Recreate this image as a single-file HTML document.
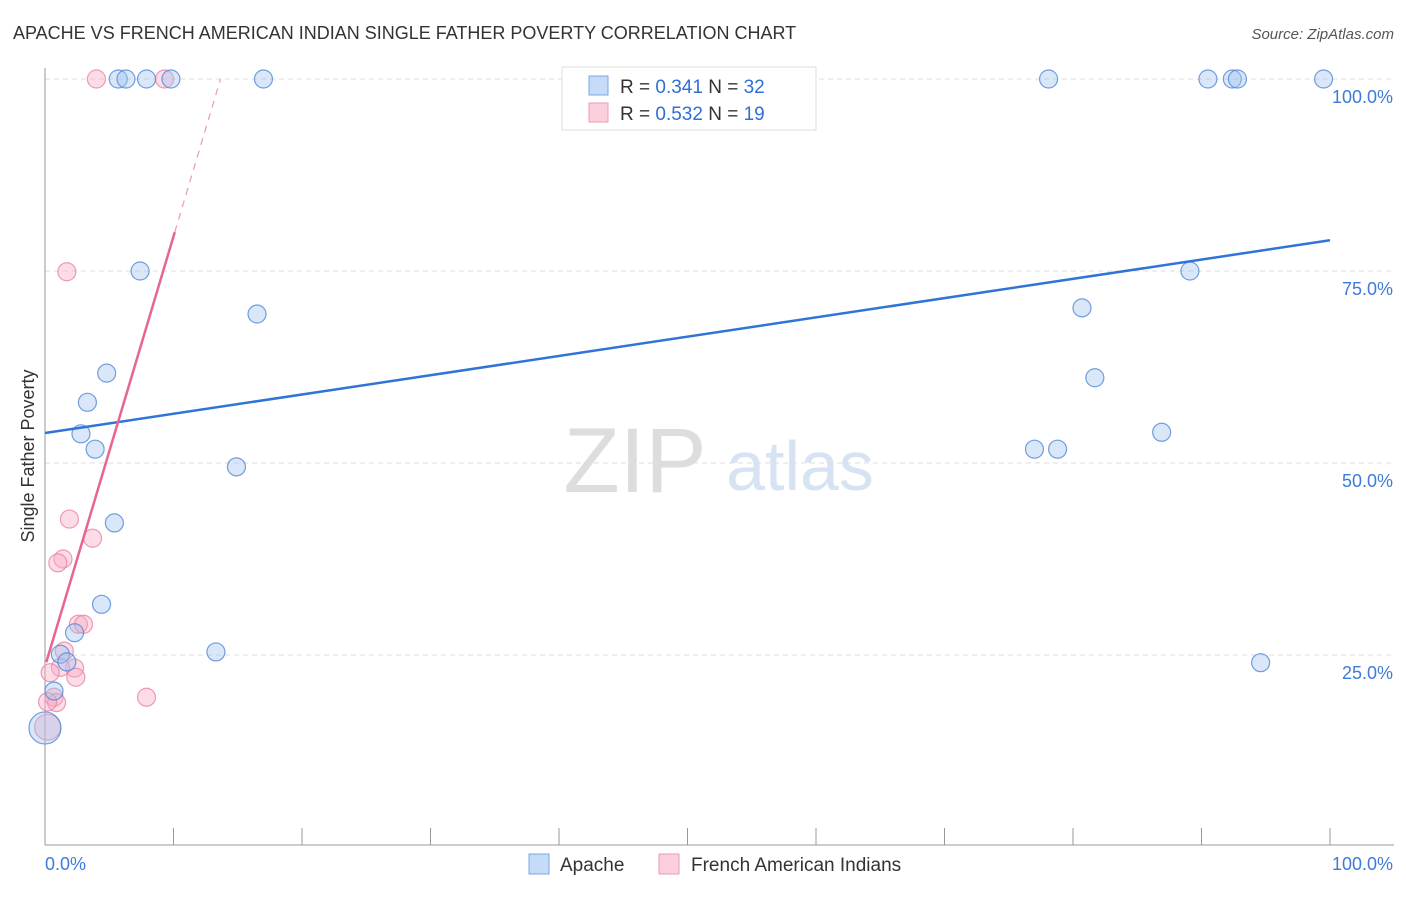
<!DOCTYPE html>
<html><head><meta charset="utf-8"><style>
body{margin:0;background:#fff;font-family:"Liberation Sans",sans-serif;}
svg text{font-family:"Liberation Sans",sans-serif;}
</style></head><body>
<svg id="c" width="1406" height="892">
<text x="13" y="39" font-size="18" fill="#333">APACHE VS FRENCH AMERICAN INDIAN SINGLE FATHER POVERTY CORRELATION CHART</text>
<text x="1394" y="39" font-size="15" fill="#555" font-style="italic" text-anchor="end">Source: ZipAtlas.com</text>
<text x="635" y="492" font-size="92" fill="#ddd" font-family="Liberation Serif" text-anchor="middle">ZIP</text>
<text x="800" y="490" font-size="70" fill="#d7e3f3" text-anchor="middle">atlas</text>
<text transform="translate(34,456) rotate(-90)" font-size="18" fill="#333" text-anchor="middle">Single Father Poverty</text>
<g id="grid"></g><g id="axes"></g><g id="pts"></g><g id="trend"></g>
<g>
<rect x="562" y="67" width="254" height="63" fill="#fff" stroke="#ddd"/>
<rect x="589" y="76" width="19" height="19" fill="#c5dbf7" stroke="#7aa7e6"/>
<rect x="589" y="103" width="19" height="19" fill="#fbd0dc" stroke="#ee9ab3"/>
<text x="620" y="93" font-size="19" fill="#333">R = <tspan fill="#2f6fd6">0.341</tspan>   N = <tspan fill="#2f6fd6">32</tspan></text>
<text x="620" y="120" font-size="19" fill="#333">R = <tspan fill="#2f6fd6">0.532</tspan>   N = <tspan fill="#2f6fd6">19</tspan></text>
</g>
<g>
<rect x="529" y="854" width="20" height="20" fill="#c5dbf7" stroke="#7aa7e6"/>
<text x="560" y="871" font-size="19" fill="#333">Apache</text>
<rect x="659" y="854" width="20" height="20" fill="#fbd0dc" stroke="#ee9ab3"/>
<text x="691" y="871" font-size="19" fill="#333">French American Indians</text>
</g>
</svg>
<script>
const yTicks=[25,50,75,100];
const yTickLabels=["25.0%","50.0%","75.0%","100.0%"];
const apacheX=[5.7,6.3,7.9,9.8,17.0,78.1,90.5,92.4,92.8,99.5,7.4,16.5,4.8,3.3,2.8,3.9,14.9,5.4,4.4,13.3,2.3,1.2,1.7,0.7,0,80.7,81.7,77.0,78.8,86.9,89.1,94.6];
const apacheY=[100,100,100,100,100,100,100,100,100,100,75.0,69.4,61.7,57.9,53.8,51.8,49.5,42.2,31.6,25.4,27.9,25.1,24.1,20.3,15.5,70.2,61.1,51.8,51.8,54.0,75.0,24.0];
const apacheR=[9,9,9,9,9,9,9,9,9,9,9,9,9,9,9,9,9,9,9,9,9,9,9,9,16,9,9,9,9,9,9,9];
const frenchX=[4.0,9.3,1.7,1.9,3.7,1.4,1.0,2.6,3.0,1.5,2.3,2.4,1.2,0.4,0.7,0.9,7.9,0.2,0.2];
const frenchY=[100,100,74.9,42.7,40.2,37.5,37.0,29.0,29.0,25.5,23.3,22.1,23.4,22.7,19.5,18.8,19.5,15.6,18.9];
const frenchR=[9,9,9,9,9,9,9,9,9,9,9,9,9,9,9,9,9,13,9];
const apacheTrend=[53.9,79.0];
const frenchTrend=[23.5,5.6];
const NS="http://www.w3.org/2000/svg";
const X=v=>45+v*12.85, Y=v=>847-v*7.68;
function mk(tag,attrs,parent){const e=document.createElementNS(NS,tag);for(const k in attrs)e.setAttribute(k,attrs[k]);document.getElementById(parent).appendChild(e);return e;}
yTicks.forEach((t,i)=>{
 const l=mk('line',{x1:45,x2:1394,y1:Y(t),y2:Y(t),stroke:'#ddd','stroke-dasharray':'5,4'},'grid');
 
 
 const tx=mk('text',{x:1393,y:Y(t)+24,'font-size':18,fill:'#3d7bd9','text-anchor':'end'},'grid');
 tx.textContent=yTickLabels[i];
 
 
});
let a=mk('line',{x1:45,x2:45,y1:68,y2:845,stroke:'#999'},'axes');


a=mk('line',{x1:45,x2:1394,y1:845,y2:845,stroke:'#999'},'axes');


for(let i=1;i<=10;i++){const t=mk('line',{x1:X(i*10),x2:X(i*10),y1:828,y2:845,stroke:'#999'},'axes');
 
 }
a=mk('text',{x:45,y:870,'font-size':18,fill:'#3d7bd9'},'axes');a.textContent='0.0%';


a=mk('text',{x:1393,y:870,'font-size':18,fill:'#3d7bd9','text-anchor':'end'},'axes');a.textContent='100.0%';


frenchX.forEach((v,i)=>{const c=mk('circle',{cx:X(v),cy:Y(frenchY[i]),r:frenchR[i],fill:'rgba(247,170,195,0.4)',stroke:'rgba(232,130,165,0.8)','stroke-width':1.2},'pts');
 
 });
apacheX.forEach((v,i)=>{const c=mk('circle',{cx:X(v),cy:Y(apacheY[i]),r:apacheR[i],fill:'rgba(160,195,240,0.4)',stroke:'rgba(80,135,215,0.8)','stroke-width':1.2},'pts');
 
 });
let t=mk('line',{x1:X(0),y1:Y(apacheTrend[0]),x2:X(100),y2:Y(apacheTrend[1]),stroke:'#2f74d6','stroke-width':2.5},'trend');


const fy=x=>frenchTrend[0]+frenchTrend[1]*x;
t=mk('line',{x1:X(0.1),y1:Y(fy(0.1)),x2:X(10.1),y2:Y(fy(10.1)),stroke:'#e8658f','stroke-width':2.5},'trend');


const xe=(100-frenchTrend[0])/frenchTrend[1];
t=mk('line',{x1:X(10.1),y1:Y(fy(10.1)),x2:X(xe),y2:Y(100),stroke:'#eda0b8','stroke-width':1.3,'stroke-dasharray':'7,6'},'trend');


</script>
</body></html>
